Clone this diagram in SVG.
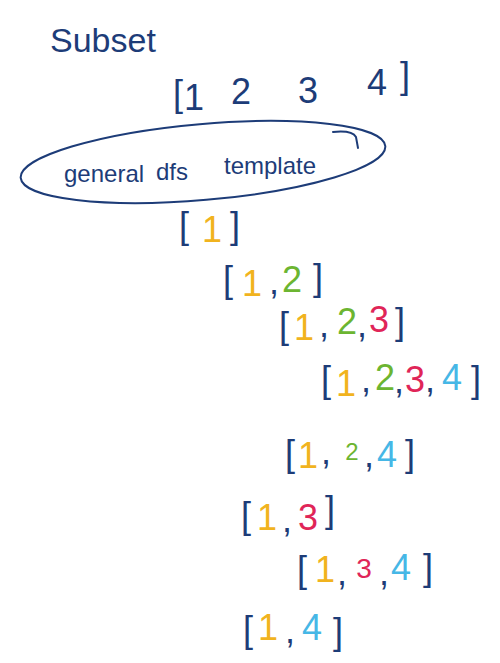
<svg xmlns="http://www.w3.org/2000/svg" width="500" height="663" viewBox="0 0 500 663">
<style>
text{font-family:"Liberation Sans","DejaVu Sans",sans-serif;text-anchor:middle;font-size:36px;fill:#1d3c78}
.t{font-size:34px;text-anchor:start}
.s{font-size:24px;text-anchor:start}
.y{fill:#f1b31e}.g{fill:#6cb531}.r{fill:#e02558}.b{fill:#46b7e6}
.ink{fill:none;stroke:#1d3c78;stroke-width:2;stroke-linecap:round}
</style>
<rect width="500" height="663" fill="#ffffff"/>
<g id="title"><text class="t" x="50" y="52">Subset</text></g>
<g id="input">
<text x="178" y="106">[</text><text x="194" y="110">1</text>
<text x="241" y="104">2</text><text x="308" y="103">3</text><text x="377" y="95">4</text><text x="405" y="88">]</text>
</g>
<g id="template">
<ellipse class="ink" cx="203" cy="162" rx="183" ry="38" transform="rotate(-5 203 162)"/>
<path class="ink" d="M333,132 Q352,130 356,137 L358,148"/>
<text class="s" x="64" y="182">general</text><text class="s" x="156" y="180">dfs</text><text class="s" x="224" y="174">template</text>
</g>
<g id="n1"><text x="184" y="238">[</text><text class="y" x="212" y="242">1</text><text x="235" y="238">]</text></g>
<g id="n12"><text x="228" y="292">[</text><text class="y" x="252" y="296">1</text><text x="274" y="294">,</text><text class="g" x="292" y="292">2</text><text x="318" y="290">]</text></g>
<g id="n123"><text x="284" y="338">[</text><text class="y" x="304" y="340">1</text><text x="324" y="337">,</text><text class="g" x="347" y="334">2</text><text x="362" y="337">,</text><text class="r" x="379" y="332">3</text><text x="400" y="334">]</text></g>
<g id="n1234"><text x="326" y="392">[</text><text class="y" x="346" y="396">1</text><text x="366" y="392">,</text><text class="g" x="385" y="390">2</text><text x="399" y="393">,</text><text class="r" x="415" y="392">3</text><text x="430" y="392">,</text><text class="b" x="452" y="390">4</text><text x="476" y="392">]</text></g>
<g id="n124"><text x="290" y="466">[</text><text class="y" x="308" y="468">1</text><text x="326" y="464">,</text><text class="g" x="352" y="460" style="font-size:24px">2</text><text x="369" y="467">,</text><text class="b" x="387" y="467">4</text><text x="410" y="466">]</text></g>
<g id="n13"><text x="246" y="528">[</text><text class="y" x="267" y="530">1</text><text x="287" y="532">,</text><text class="r" x="308" y="530">3</text><text x="330" y="522">]</text></g>
<g id="n134"><text x="302" y="582">[</text><text class="y" x="325" y="582">1</text><text x="342" y="585">,</text><text class="r" x="364" y="578" style="font-size:28px">3</text><text x="384" y="585">,</text><text class="b" x="401" y="580">4</text><text x="428" y="580">]</text></g>
<g id="n14"><text x="248" y="642">[</text><text class="y" x="268" y="640">1</text><text x="290" y="643">,</text><text class="b" x="312" y="640">4</text><text x="338" y="644">]</text></g>
<g id="connectors"></g>
</svg>
